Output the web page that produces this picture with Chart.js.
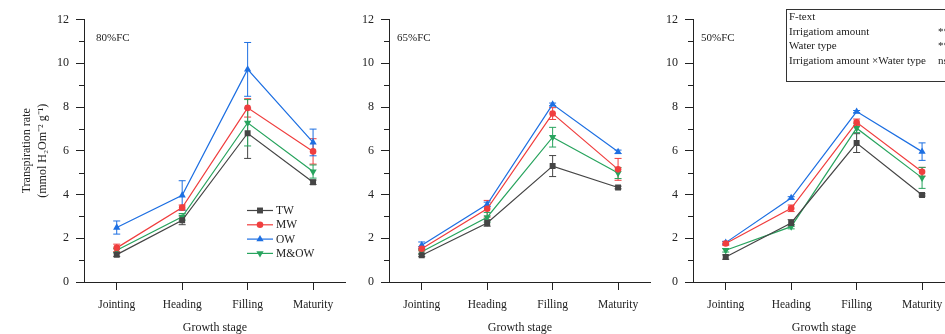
<!DOCTYPE html>
<html>
<head>
<meta charset="utf-8">
<script src="https://cdn.jsdelivr.net/npm/chart.js@4.4.1/dist/chart.umd.min.js"></script>
<style>
body{margin:0;width:945px;height:334px;overflow:hidden;background:#fff;position:relative;font-family:'Liberation Serif',serif;}
canvas{position:absolute;top:0;}
.tag{position:absolute;font-size:11px;color:#222;}
#ftab{position:absolute;left:786px;top:9px;width:180px;height:71px;border:1px solid #333;font-size:11px;color:#222;}
#ftab div{position:absolute;white-space:nowrap;}
</style>
</head>
<body>
<canvas id="c80" width="350" height="334" style="left:0px"></canvas>
<canvas id="c65" width="350" height="334" style="left:305px"></canvas>
<canvas id="c50" width="350" height="334" style="left:609px"></canvas>
<div class="tag" style="left:96px;top:31px">80%FC</div>
<div class="tag" style="left:397px;top:31px">65%FC</div>
<div class="tag" style="left:701px;top:31px">50%FC</div>
<div id="ftab">
  <div style="left:2px;top:0px">F-text</div>
  <div style="left:2px;top:15px">Irrigatiom amount</div><div style="left:151px;top:15px">**</div>
  <div style="left:2px;top:29px">Water type</div><div style="left:151px;top:29px">**</div>
  <div style="left:2px;top:44px">Irrigatiom amount ×Water type</div><div style="left:151px;top:44px">ns</div>
</div>
<script>
// categories
const stages = ['Jointing', 'Heading', 'Filling', 'Maturity'];
const names = ['TW', 'MW', 'OW', 'M&OW'];
const colores = ['#454545', '#f03e3e', '#1d6fe2', '#28a45e'];
const estilos = ['rect', 'circle', 'triangle', 'triangle'];
const giros = [0, 0, 0, 180];
const radios = [4.2, 3.3, 4.2, 4.2];

// 80%FC
const tw80 = [1.25, 2.82, 6.80, 4.56];
const mw80 = [1.56, 3.40, 7.96, 5.97];
const ow80 = [2.49, 3.96, 9.72, 6.38];
const mo80 = [1.45, 2.98, 7.28, 5.05];
const tw80sd = [0.08, 0.20, 1.15, 0.10];
const mw80sd = [0.17, 0.12, 0.42, 0.58];
const ow80sd = [0.30, 0.67, 1.23, 0.61];
const mo80sd = [0.10, 0.15, 1.06, 0.30];

// 65%FC
const tw65 = [1.22, 2.70, 5.30, 4.32];
const mw65 = [1.52, 3.35, 7.70, 5.15];
const ow65 = [1.68, 3.55, 8.12, 5.95];
const mo65 = [1.38, 2.96, 6.62, 4.98];
const tw65sd = [0.06, 0.15, 0.48, 0.06];
const mw65sd = [0.10, 0.38, 0.27, 0.50];
const ow65sd = [0.15, 0.10, 0.06, 0.08];
const mo65sd = [0.10, 0.22, 0.45, 0.25];

// 50%FC
const tw50 = [1.14, 2.70, 6.35, 3.98];
const mw50 = [1.76, 3.37, 7.30, 5.04];
const ow50 = [1.80, 3.84, 7.79, 5.96];
const mo50 = [1.45, 2.53, 7.03, 4.76];
const tw50sd = [0.10, 0.15, 0.43, 0.05];
const mw50sd = [0.08, 0.15, 0.15, 0.20];
const ow50sd = [0.06, 0.06, 0.05, 0.40];
const mo50sd = [0.08, 0.10, 0.20, 0.48];

const fuente = "'Liberation Serif', serif";

// barras de error
const barrasError = {
  id: 'barrasError',
  beforeDatasetsDraw(chart) {
    const ctx = chart.ctx;
    const y = chart.scales.y;
    chart.data.datasets.forEach(function(ds, i) {
      const meta = chart.getDatasetMeta(i);
      ctx.save();
      ctx.strokeStyle = ds.borderColor;
      ctx.lineWidth = 1;
      meta.data.forEach(function(p, j) {
        const arriba = y.getPixelForValue(ds.data[j] + ds.sd[j]);
        const abajo = y.getPixelForValue(ds.data[j] - ds.sd[j]);
        ctx.beginPath();
        ctx.moveTo(p.x, arriba); ctx.lineTo(p.x, abajo);
        ctx.moveTo(p.x - 3.5, arriba); ctx.lineTo(p.x + 3.5, arriba);
        ctx.moveTo(p.x - 3.5, abajo); ctx.lineTo(p.x + 3.5, abajo);
        ctx.stroke();
      });
      ctx.restore();
    });
  }
};

// ticks menores del eje y
const ticksMenores = {
  id: 'ticksMenores',
  afterDraw(chart) {
    const ctx = chart.ctx;
    const y = chart.scales.y;
    ctx.save();
    ctx.strokeStyle = '#222';
    ctx.lineWidth = 1;
    for (let v = 1; v < 12; v += 2) {
      const py = Math.round(y.getPixelForValue(v)) + 0.5;
      ctx.beginPath();
      ctx.moveTo(y.right - 5, py);
      ctx.lineTo(y.right, py);
      ctx.stroke();
    }
    ctx.restore();
  }
};

// leyenda dentro del panel 80%FC
const leyenda = {
  id: 'leyenda',
  afterDraw(chart) {
    if (!chart.options.plugins.leyenda.show) return;
    const ctx = chart.ctx;
    const x0 = 247, y0 = 210.5;
    ctx.save();
    chart.data.datasets.forEach(function(ds, i) {
      const yy = y0 + i * 14.3;
      ctx.strokeStyle = ds.borderColor;
      ctx.lineWidth = 1.2;
      ctx.beginPath(); ctx.moveTo(x0, yy); ctx.lineTo(x0 + 26, yy); ctx.stroke();
      ctx.fillStyle = ds.borderColor;
      Chart.helpers.drawPoint(ctx, {pointStyle: ds.pointStyle, rotation: ds.pointRotation, radius: ds.pointRadius, borderWidth: 0}, x0 + 13, yy);
      ctx.fillStyle = '#222';
      ctx.font = '11.5px ' + fuente;
      ctx.textBaseline = 'middle';
      ctx.fillText(ds.label, x0 + 29, yy + 0.5);
    });
    ctx.restore();
  }
};

function armarPanel(id, valores, errores, conTitulo) {
  const datasets = names.map(function(n, i) {
    return {
      label: n,
      data: valores[i],
      sd: errores[i],
      borderColor: colores[i],
      backgroundColor: colores[i],
      borderWidth: 1.2,
      pointStyle: estilos[i],
      pointRotation: giros[i],
      pointRadius: radios[i],
      pointBorderWidth: 0,
      tension: 0
    };
  });
  return new Chart(document.getElementById(id), {
    type: 'line',
    data: {labels: stages, datasets: datasets},
    plugins: [barrasError, ticksMenores, leyenda],
    options: {
      responsive: false,
      animation: false,
      layout: {padding: {top: 19.5, right: 4, left: 0, bottom: 0}},
      plugins: {legend: {display: false}, tooltip: {enabled: false}, leyenda: {show: conTitulo}},
      scales: {
        x: {
          offset: true,
          grid: {display: true, drawOnChartArea: false, drawTicks: true, tickLength: 8, color: '#222', offset: false},
          border: {display: true, color: '#222', width: 1},
          ticks: {color: '#222', padding: 8, font: {family: fuente, size: 11.5}},
          title: {display: true, text: 'Growth stage', color: '#222', font: {family: fuente, size: 12}, padding: {top: 0, bottom: -1}},
          afterFit: function(s) { s.height = 52; }
        },
        y: {
          min: 0, max: 12,
          grid: {display: true, drawOnChartArea: false, drawTicks: true, tickLength: 8, color: '#222'},
          border: {display: true, color: '#222', width: 1},
          ticks: {stepSize: 2, color: '#222', padding: 7, font: {family: fuente, size: 12}},
          title: {display: conTitulo, text: ['Transpiration rate', '(mmol H\u2082Om\u207B\u00B2 g\u207B\u00B9)'], color: '#222', font: {family: fuente, size: 12, lineHeight: '16px'}, padding: {top: 19, bottom: 0}},
          afterFit: function(s) { s.width = 84; }
        }
      }
    }
  });
}

armarPanel('c80', [tw80, mw80, ow80, mo80], [tw80sd, mw80sd, ow80sd, mo80sd], true);
armarPanel('c65', [tw65, mw65, ow65, mo65], [tw65sd, mw65sd, ow65sd, mo65sd], false);
armarPanel('c50', [tw50, mw50, ow50, mo50], [tw50sd, mw50sd, ow50sd, mo50sd], false);
</script>
</body>
</html>
